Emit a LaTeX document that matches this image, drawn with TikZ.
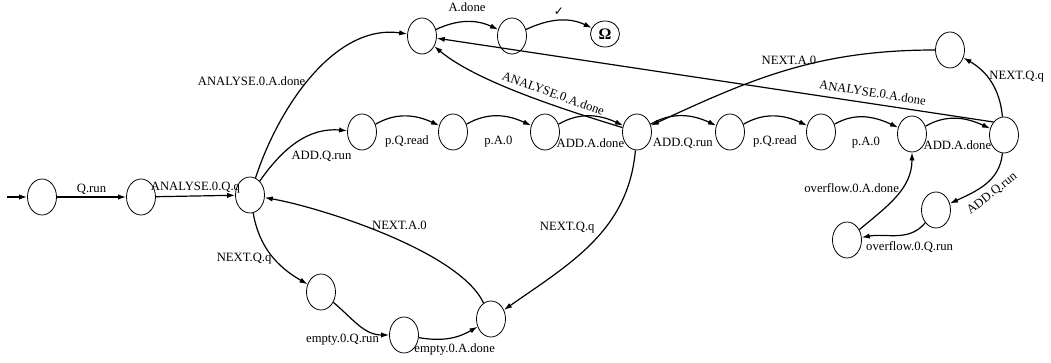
\documentclass[tikz,border=0pt]{standalone}
\usepackage{fontspec}
\setmainfont{Liberation Serif}
\newfontfamily\symfont{DejaVu Sans}
\usetikzlibrary{shapes,arrows}
\usetikzlibrary{arrows.meta, positioning}

\tikzset{
  st/.style={draw, ellipse, line width=0.6pt, minimum width=21.75pt, minimum height=27pt, inner sep=0pt},
  fin/.style={draw, ellipse, line width=0.6pt, minimum width=21.75pt, minimum height=19.5pt, inner sep=0pt, font=\fontsize{12}{14}\selectfont\bfseries},
  tr/.style={->, line width=0.9pt},
}

\begin{document}
\begin{tikzpicture}[x=0.75pt, y=-0.75pt, >={Latex[length=6pt,width=4pt]}, font=\fontsize{9.5}{11}\selectfont, inner sep=1.5pt]
        \useasboundingbox (0,0) rectangle (1051,363);
        % states
        \coordinate (start) at (7,197);
        \node[st] (0) at (42,197) {};
        \node[st] (1) at (141,197) {};
        \node[st] (2) at (250,195) {};
        \node[st] (3) at (422,36) {};
        \node[st] (4) at (512,36) {};
        \node[fin] (5) at (605,34) {Ω};
        \node[st] (6) at (362,132) {};
        \node[st] (7) at (453,132) {};
        \node[st] (8) at (545,132) {};
        \node[st] (9) at (637,132) {};
        \node[st] (10) at (730,132) {};
        \node[st] (11) at (821,132) {};
        \node[st] (12) at (912,134) {};
        \node[st] (13) at (1004,135) {};
        \node[st] (14) at (950,50) {};
        \node[st] (15) at (936,210) {};
        \node[st] (16) at (847,240) {};
        \node[st] (17) at (321,292) {};
        \node[st] (18) at (404,335) {};
        \node[st] (19) at (491,319) {};

        % transitions
        \draw[tr] (start) -- (0);
        \draw[tr] (0) -- node[midway, above] {Q.run} (1);
        \draw[tr] (1) -- node[midway, above] {ANALYSE.0.Q.q} (2);
        \draw[tr] (2) to [out=72, in=172, looseness=0.9] node[pos=0.47, left] {ANALYSE.0.A.done} (3);
        \draw[tr] (3) to [out=25, in=155] node[midway, above=6pt] {A.done} (4);
        \draw[tr] (4) to [out=25, in=155] node[midway, above=2pt] {\symfont\fontsize{9}{10}\selectfont ✓} (5);
        \draw[tr] (2) to [out=55, in=175] node[pos=0.4, below right] {ADD.Q.run} (6);
        \draw[tr] (6) to [out=30, in=155] node[midway, below=13pt] {p.Q.read} (7);
        \draw[tr] (7) to [out=30, in=155] node[midway, below=13pt] {p.A.0} (8);
        \draw[tr] (8) to [out=30, in=155] node[midway, below=15pt] {ADD.A.done} (9);
        \draw[tr] (9) to [out=163, in=-40, looseness=0.7] node[pos=0.38, above=3pt, sloped] {ANALYSE.0.A.done} (3);
        \draw[tr] (9) to [out=30, in=155] node[midway, below=15pt] {ADD.Q.run} (10);
        \draw[tr] (10) to [out=30, in=155] node[midway, below=13pt] {p.Q.read} (11);
        \draw[tr] (11) to [out=30, in=155] node[midway, below=13pt] {p.A.0} (12);
        \draw[tr] (12) to [out=30, in=155] node[midway, below=15pt] {ADD.A.done} (13);
        \draw[tr] (13.north west) -- node[pos=0.22, above=3pt, sloped] {ANALYSE.0.A.done} (3);
        \draw[tr] (13) to [out=95, in=-30] node[pos=0.6, right] {NEXT.Q.q} (14);
        \draw[tr] (14) to [out=180, in=25] node[pos=0.5, above=2pt] {NEXT.A.0} (9);
        \draw[tr] (13) to [out=-95, in=25] node[pos=0.5, below=3pt, sloped] {ADD.Q.run} (15);
        \draw[tr] (15) to [out=-130, in=10] node[pos=1, below right=2pt] {overflow.0.Q.run} (16);
        \draw[tr] (16) to [out=40, in=-90] node[pos=0.6, left] {overflow.0.A.done} (12);
        \draw[tr] (9) to [out=-95, in=35] node[pos=0.4, left=6pt] {NEXT.Q.q} (19);
        \draw[tr] (19) to [out=115, in=-10, looseness=0.6] node[pos=0.45, above=6pt] {NEXT.A.0} (2);
        \draw[tr] (2) to [out=-80, in=150] node[pos=0.55, left] {NEXT.Q.q} (17);
        \draw[tr] (17) to [out=-40, in=180] node[pos=0.85, below left=-3pt] {empty.0.Q.run} (18);
        \draw[tr] (18) to [out=-10, in=-150] node[pos=0.6, below=3pt] {empty.0.A.done} (19);
  \end{tikzpicture}
\end{document}
